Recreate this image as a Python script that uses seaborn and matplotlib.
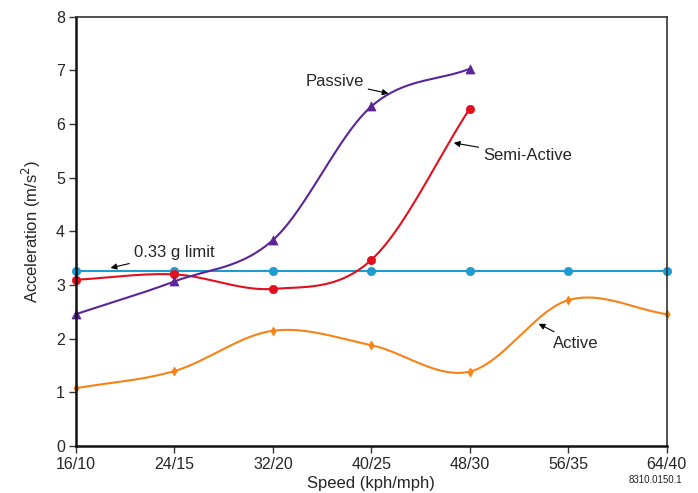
import numpy as np
import pandas as pd
import matplotlib
matplotlib.use("Agg")
import matplotlib.pyplot as plt
import seaborn as sns

# Speeds (kph) and tick labels (kph/mph)
speed_kph = [16, 24, 32, 40, 48, 56, 64]
tick_labels = ["16/10", "24/15", "32/20", "40/25", "48/30", "56/35", "64/40"]

# Acceleration, m/s^2
limit_033g = [3.26, 3.26, 3.26, 3.26, 3.26, 3.26, 3.26]
passive = [2.46, 3.07, 3.84, 6.33, 7.03]
semi_active = [3.10, 3.20, 2.93, 3.47, 6.29]
active = [1.08, 1.40, 2.15, 1.88, 1.39, 2.72, 2.46]

colors = {
    "limit": "#1f9bce",
    "passive": "#5a2596",
    "semi": "#e1101c",
    "active": "#f98217",
}


def smooth(x, y, n=40):
    """Catmull-Rom curve through the points, for a smoothed line."""
    x = np.asarray(x, float)
    y = np.asarray(y, float)
    P = np.column_stack([x, y])
    P = np.vstack([2 * P[0] - P[1], P, 2 * P[-1] - P[-2]])
    out = []
    t = np.linspace(0, 1, n)[:, None]
    for i in range(1, len(P) - 2):
        p0, p1, p2, p3 = P[i - 1], P[i], P[i + 1], P[i + 2]
        seg = 0.5 * ((2 * p1) + (-p0 + p2) * t
                     + (2 * p0 - 5 * p1 + 4 * p2 - p3) * t ** 2
                     + (-p0 + 3 * p1 - 3 * p2 + p3) * t ** 3)
        out.append(seg if i == 1 else seg[1:])
    out = np.vstack(out)
    return out[:, 0], out[:, 1]


sns.set_theme(style="ticks")
plt.rcParams["font.family"] = ["Liberation Sans", "DejaVu Sans"]

fig, ax = plt.subplots(figsize=(6.98, 4.93), dpi=100)
fig.subplots_adjust(left=0.109, right=0.955, top=0.966, bottom=0.095)

series = [
    ("limit", speed_kph, limit_033g, "o", 6),
    ("active", speed_kph, active, "d", 4.5),
    ("semi", speed_kph[:5], semi_active, "o", 6),
    ("passive", speed_kph[:5], passive, "^", 6.5),
]
for key, xs, ys, mk, ms in series:
    sx, sy = smooth(xs, ys)
    curve = pd.DataFrame({"x": sx, "y": sy})
    sns.lineplot(data=curve, x="x", y="y", ax=ax, color=colors[key],
                 lw=1.5, sort=False, estimator=None)
    pts = pd.DataFrame({"x": xs, "y": ys})
    sns.scatterplot(data=pts, x="x", y="y", ax=ax, color=colors[key],
                    marker=mk, s=ms ** 2, edgecolor=colors[key], linewidth=0.5,
                    zorder=3, clip_on=False)

ax.set_xlim(16, 64)
ax.set_ylim(0, 8)
ax.set_xticks(speed_kph)
ax.set_xticklabels(tick_labels)
ax.set_yticks(range(0, 9))
ax.tick_params(axis="both", labelsize=11.5, length=5, width=1, color="#333333",
               pad=3)
ax.set_xlabel("Speed (kph/mph)", fontsize=12, labelpad=3)
ax.set_ylabel("Acceleration (m/s$^2$)", fontsize=12, labelpad=9)

for side in ["left", "bottom"]:
    ax.spines[side].set_linewidth(1.8)
    ax.spines[side].set_color("#111111")
for side in ["top", "right"]:
    ax.spines[side].set_visible(True)
    ax.spines[side].set_linewidth(1.2)
    ax.spines[side].set_color("#333333")
for sp in ax.spines.values():
    sp.set_zorder(5)

arrow = dict(arrowstyle="-|>", color="black", lw=0.8, mutation_scale=9,
             shrinkA=1, shrinkB=0)
ax.annotate("Passive", xy=(41.4, 6.57), xytext=(37.0, 6.79), fontsize=12,
            ha="center", va="center", arrowprops=arrow)
ax.annotate("Semi-Active", xy=(46.7, 5.65), xytext=(49.1, 5.41), fontsize=12,
            ha="left", va="center", arrowprops=arrow)
ax.annotate("0.33 g limit", xy=(18.8, 3.32), xytext=(20.7, 3.60), fontsize=12,
            ha="left", va="center", arrowprops=arrow)
ax.annotate("Active", xy=(53.6, 2.28), xytext=(54.8, 1.92), fontsize=12,
            ha="left", va="center", arrowprops=arrow)

fig.text(0.977, 0.016, "8310.0150.1", fontsize=7, ha="right", va="bottom",
         color="#222222")

fig.savefig("out.png", dpi=100)
